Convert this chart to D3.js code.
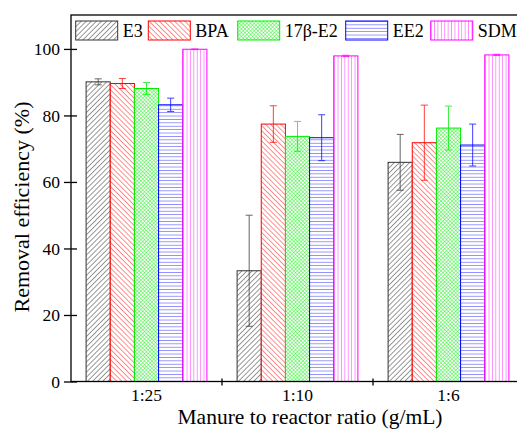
<!DOCTYPE html>
<html>
<head>
<meta charset="utf-8">
<script src="https://cdn.jsdelivr.net/npm/d3@7"></script>
<style>
  body { margin: 0; background: #fff; }
  svg { font-family: "Liberation Serif", "Times New Roman", serif; }
</style>
</head>
<body>
<svg id="chart" width="517" height="430"></svg>
<script>
// data
var categories = ['1:25', '1:10', '1:6'];
var seriesNames = ['E3', 'BPA', '17\u03b2-E2', 'EE2', 'SDM'];
var seriesColors = ['#333333', '#ff0000', '#00ee00', '#0000ff', '#ff00ff'];
var values = [
  [90.1, 33.3, 65.9],   // E3
  [89.6, 77.4, 71.8],   // BPA
  [88.1, 73.7, 76.2],   // 17b-E2
  [83.2, 73.3, 71.1],   // EE2
  [99.9, 97.9, 98.2]    // SDM
];
var errors = [
  [0.9, 16.7, 8.4],
  [1.5, 5.5, 11.3],
  [1.8, 4.5, 6.6],
  [2.0, 6.9, 6.3],
  [0.1, 0.2, 0.2]
];
var yTicks = [0, 20, 40, 60, 80, 100];

(function() {
  var svg = d3.select('#chart');
  var pLeft = 71, pRight = 524, pTop = 15, pBottom = 381.5;

  var x = d3.scaleBand().domain(categories).range([pLeft, pRight]).padding(0);
  var bw = x.bandwidth();
  var xs = d3.scaleBand().domain(seriesNames).range([bw * 0.1, bw * 0.9]).padding(0);
  var y = d3.scaleLinear().domain([0, 110.2]).range([pBottom, pTop]);

  // patterns
  var defs = svg.append('defs');
  function addPattern(id, size, angle, color, lines, width) {
    var p = defs.append('pattern').attr('id', id)
      .attr('patternUnits', 'userSpaceOnUse')
      .attr('width', size).attr('height', size)
      .attr('patternTransform', 'rotate(' + angle + ')');
    p.append('rect').attr('width', size).attr('height', size).attr('fill', '#fff');
    lines.forEach(function(l) {
      p.append('line').attr('x1', l[0]).attr('y1', l[1]).attr('x2', l[2]).attr('y2', l[3])
        .attr('stroke', color).attr('stroke-width', width);
    });
  }
  addPattern('p0', 3.6, 45, '#333', [[0, 0, 0, 3.6]], 1);
  addPattern('p1', 3.6, -45, '#ff2020', [[0, 0, 0, 3.6]], 1);
  addPattern('p2', 2.6, 45, '#22ee22', [[0, 0, 0, 2.6], [0, 0, 2.6, 0]], 0.9);
  addPattern('p3', 3.4, 0, '#3030ff', [[0, 0, 3.4, 0]], 1);
  addPattern('p4', 3.4, 0, '#ff30ff', [[0, 0, 0, 3.4]], 1);

  // bars
  var groups = svg.selectAll('g.cat').data(categories).enter().append('g')
    .attr('class', 'cat')
    .attr('transform', function(d) { return 'translate(' + x(d) + ',0)'; });

  seriesNames.forEach(function(s, si) {
    groups.append('rect')
      .attr('x', xs(s))
      .attr('y', function(d, ci) { return y(values[si][ci]); })
      .attr('width', xs.bandwidth())
      .attr('height', function(d, ci) { return y(0) - y(values[si][ci]); })
      .attr('fill', 'url(#p' + si + ')')
      .attr('stroke', seriesColors[si])
      .attr('stroke-width', 1);
  });

  // error bars
  seriesNames.forEach(function(s, si) {
    var cx = xs(s) + xs.bandwidth() / 2;
    var eb = groups.append('g').attr('stroke', seriesColors[si]).attr('stroke-width', 1).attr('opacity', 0.75);
    eb.append('line')
      .attr('x1', cx).attr('x2', cx)
      .attr('y1', function(d, ci) { return y(values[si][ci] + errors[si][ci]); })
      .attr('y2', function(d, ci) { return y(values[si][ci] - errors[si][ci]); });
    [1, -1].forEach(function(sign) {
      eb.append('line')
        .attr('x1', cx - 3.5).attr('x2', cx + 3.5)
        .attr('y1', function(d, ci) { return y(values[si][ci] + sign * errors[si][ci]); })
        .attr('y2', function(d, ci) { return y(values[si][ci] + sign * errors[si][ci]); });
    });
  });

  // frame
  svg.append('rect').attr('x', pLeft).attr('y', pTop).attr('width', pRight - pLeft).attr('height', pBottom - pTop)
    .attr('fill', 'none').attr('stroke', '#000').attr('stroke-width', 1.3);

  // y axis
  var yAxis = svg.append('g').attr('transform', 'translate(' + pLeft + ',0)')
    .call(d3.axisLeft(y).tickValues(yTicks).tickSize(7).tickPadding(4));
  yAxis.attr('font-size', null).attr('font-family', null);
  yAxis.select('.domain').remove();
  yAxis.selectAll('.tick line').attr('x1', 6).attr('stroke-width', 1.3);
  yAxis.selectAll('.tick text').attr('font-size', 17.5).attr('fill', '#000');

  // x axis
  var xAxis = svg.append('g').attr('transform', 'translate(0,' + pBottom + ')')
    .call(d3.axisBottom(x).tickSize(0).tickPadding(7));
  xAxis.attr('font-size', null).attr('font-family', null);
  xAxis.select('.domain').remove();
  xAxis.selectAll('.tick text').attr('font-size', 17.5).attr('fill', '#000');
  svg.append('g').selectAll('line').data(categories).enter().append('line')
    .attr('x1', function(d) { return x(d) + bw; })
    .attr('x2', function(d) { return x(d) + bw; })
    .attr('y1', pBottom - 3).attr('y2', pBottom + 4)
    .attr('stroke', '#000').attr('stroke-width', 1.3);

  // axis titles
  svg.append('text').attr('x', 310).attr('y', 424).attr('text-anchor', 'middle')
    .attr('font-size', 21.5).text('Manure to reactor ratio (g/mL)');
  svg.append('text').attr('transform', 'translate(29,207) rotate(-90)').attr('text-anchor', 'middle')
    .attr('font-size', 22).text('Removal efficiency (%)');

  // legend
  var legendX = [75.7, 148.3, 237.7, 345.7, 430.7];
  var legend = svg.selectAll('g.leg').data(seriesNames).enter().append('g')
    .attr('class', 'leg')
    .attr('transform', function(d, i) { return 'translate(' + legendX[i] + ',21)'; });
  legend.append('rect').attr('width', 42).attr('height', 19)
    .attr('fill', function(d, i) { return 'url(#p' + i + ')'; })
    .attr('stroke', function(d, i) { return seriesColors[i]; });
  legend.append('text').attr('x', 47).attr('y', 16).attr('font-size', 18).text(function(d) { return d; });
})();
</script>
</body>
</html>
